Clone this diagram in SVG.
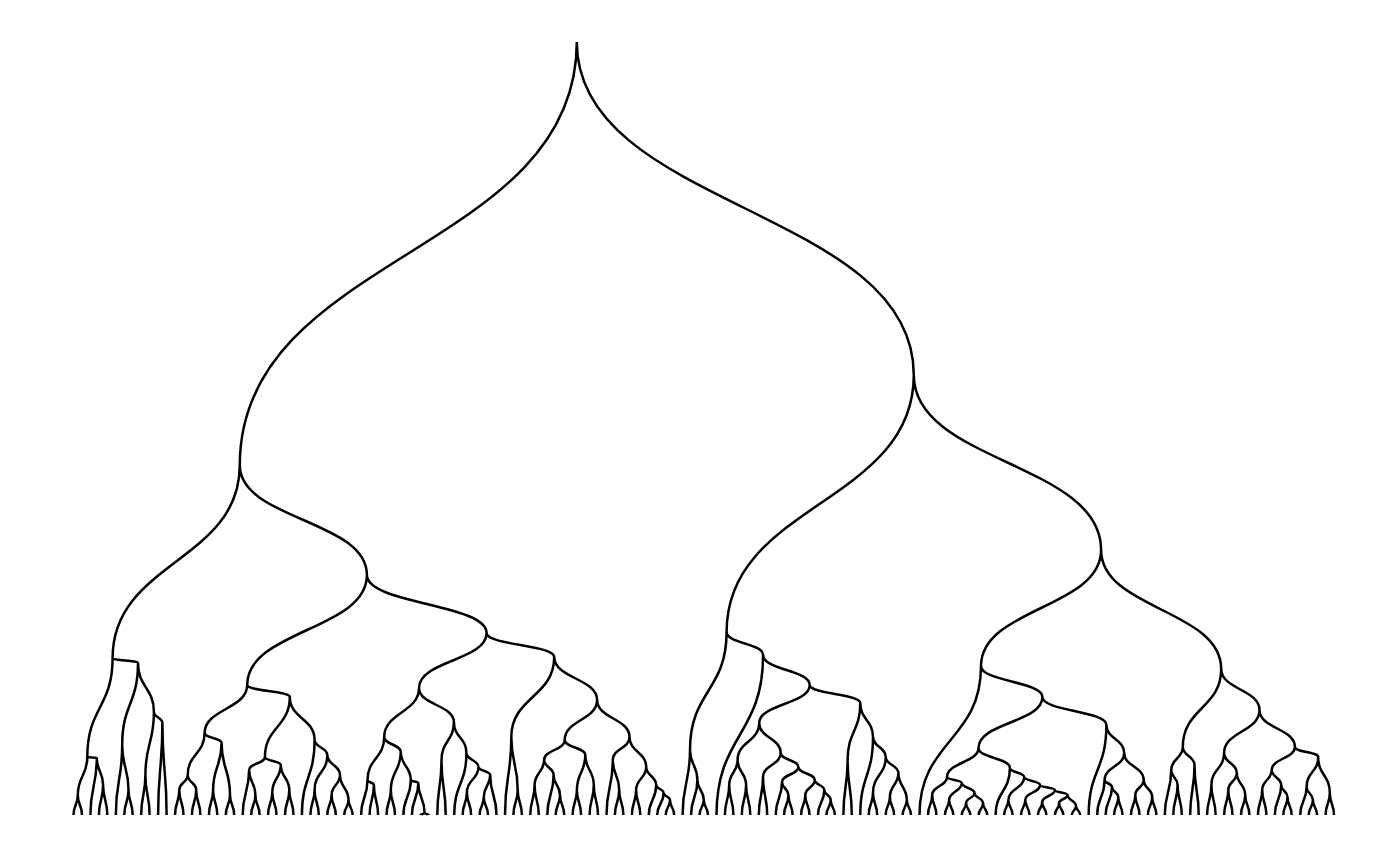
<svg xmlns="http://www.w3.org/2000/svg" width="1400" height="865" viewBox="0 0 1400 865">
<style>
.l{fill:none;stroke:#000;stroke-width:2.5;stroke-linecap:butt}
</style>
<rect width="1400" height="865" fill="#fff"/>
<g id="connectors" class="l">
<g id="top">
<path d="M239.8,465 C239.8,253.5 576.8,253.5 576.8,42 C576.8,208.5 913.8,208.5 913.8,375"/>
<path d="M112.6,658 C112.6,561.5 239.8,561.5 239.8,465 C239.8,520 366.9,520 366.9,575"/>
<path d="M726.6,632 C726.6,503.5 913.8,503.5 913.8,375 C913.8,462.5 1101.1,462.5 1101.1,550"/>
<path d="M247.2,685 C247.2,630 366.9,630 366.9,575 C366.9,604 486.6,604 486.6,633"/>
<path d="M419,688 C419,660.5 486.6,660.5 486.6,633 C486.6,645 554.2,645 554.2,657"/>
<path d="M981,666 C981,608 1101.1,608 1101.1,550 C1101.1,609.5 1221.2,609.5 1221.2,669"/>
</g>
<g id="sub-A1">
<path d="M73.5,815 C73.5,805 77.8,805 77.8,795 C77.8,805 82,805 82,815"/>
<path d="M98.9,815 C98.9,800 103.1,800 103.1,785 C103.1,800 107.3,800 107.3,815"/>
<path d="M90.4,815 C90.4,786.5 96.8,786.5 96.8,758 C96.8,771.5 103.1,771.5 103.1,785"/>
<path d="M77.8,795 C77.8,776 87.3,776 87.3,757 C87.3,757.5 96.8,757.5 96.8,758"/>
<path d="M124.3,815 C124.3,802.5 128.5,802.5 128.5,790 C128.5,802.5 132.7,802.5 132.7,815"/>
<path d="M115.8,815 C115.8,780 122.2,780 122.2,745 C122.2,767.5 128.5,767.5 128.5,790"/>
<path d="M141.2,815 C141.2,795 145.4,795 145.4,775 C145.4,795 149.6,795 149.6,815"/>
<path d="M158.1,815 C158.1,769 162.4,769 162.4,723 C162.4,769 166.6,769 166.6,815"/>
<path d="M145.4,775 C145.4,743.5 153.9,743.5 153.9,712 C153.9,717.5 162.4,717.5 162.4,723"/>
<path d="M122.2,745 C122.2,704 138,704 138,663 C138,687.5 153.9,687.5 153.9,712"/>
<path d="M87.3,757 C87.3,707.5 112.6,707.5 112.6,658 C112.6,660.5 138,660.5 138,663"/>
</g>
<g id="sub-A2a">
<path d="M175,815 C175,802.5 179.3,802.5 179.3,790 C179.3,802.5 183.5,802.5 183.5,815"/>
<path d="M191.9,815 C191.9,802.5 196.2,802.5 196.2,790 C196.2,802.5 200.4,802.5 200.4,815"/>
<path d="M179.3,790 C179.3,782.5 187.7,782.5 187.7,775 C187.7,782.5 196.2,782.5 196.2,790"/>
<path d="M208.9,815 C208.9,802.5 213.1,802.5 213.1,790 C213.1,802.5 217.3,802.5 217.3,815"/>
<path d="M225.8,815 C225.8,805 230,805 230,795 C230,805 234.2,805 234.2,815"/>
<path d="M213.1,790 C213.1,766.5 221.6,766.5 221.6,743 C221.6,769 230,769 230,795"/>
<path d="M187.7,775 C187.7,754 204.6,754 204.6,733 C204.6,738 221.6,738 221.6,743"/>
<path d="M251.2,815 C251.2,805 255.4,805 255.4,795 C255.4,805 259.6,805 259.6,815"/>
<path d="M242.7,815 C242.7,792.5 249.1,792.5 249.1,770 C249.1,782.5 255.4,782.5 255.4,795"/>
<path d="M268.1,815 C268.1,803.5 272.3,803.5 272.3,792 C272.3,803.5 276.5,803.5 276.5,815"/>
<path d="M285,815 C285,802.5 289.3,802.5 289.3,790 C289.3,802.5 293.5,802.5 293.5,815"/>
<path d="M272.3,792 C272.3,778.5 280.8,778.5 280.8,765 C280.8,777.5 289.3,777.5 289.3,790"/>
<path d="M249.1,770 C249.1,763.5 264.9,763.5 264.9,757 C264.9,761 280.8,761 280.8,765"/>
<path d="M310.4,815 C310.4,802.5 314.6,802.5 314.6,790 C314.6,802.5 318.8,802.5 318.8,815"/>
<path d="M327.3,815 C327.3,805 331.6,805 331.6,795 C331.6,805 335.8,805 335.8,815"/>
<path d="M344.2,815 C344.2,807.5 348.5,807.5 348.5,800 C348.5,807.5 352.7,807.5 352.7,815"/>
<path d="M331.6,795 C331.6,785 340,785 340,775 C340,787.5 348.5,787.5 348.5,800"/>
<path d="M314.6,790 C314.6,772.5 327.3,772.5 327.3,755 C327.3,765 340,765 340,775"/>
<path d="M301.9,815 C301.9,777.5 314.6,777.5 314.6,740 C314.6,747.5 327.3,747.5 327.3,755"/>
<path d="M264.9,757 C264.9,727 289.8,727 289.8,697 C289.8,718.5 314.6,718.5 314.6,740"/>
<path d="M204.6,733 C204.6,709 247.2,709 247.2,685 C247.2,691 289.8,691 289.8,697"/>
</g>
<g id="sub-A2b1">
<path d="M369.6,815 C369.6,800 373.9,800 373.9,785 C373.9,800 378.1,800 378.1,815"/>
<path d="M361.1,815 C361.1,797.5 367.5,797.5 367.5,780 C367.5,782.5 373.9,782.5 373.9,785"/>
<path d="M386.5,815 C386.5,802.5 390.8,802.5 390.8,790 C390.8,802.5 395,802.5 395,815"/>
<path d="M420.4,815 C420.4,814 424.6,814 424.6,813 C424.6,814 428.8,814 428.8,815"/>
<path d="M411.9,815 C411.9,799 418.3,799 418.3,783 C418.3,798 424.6,798 424.6,813"/>
<path d="M403.4,815 C403.4,797.5 410.8,797.5 410.8,780 C410.8,781.5 418.3,781.5 418.3,783"/>
<path d="M390.8,790 C390.8,771 400.8,771 400.8,752 C400.8,766 410.8,766 410.8,780"/>
<path d="M367.5,780 C367.5,758.5 384.2,758.5 384.2,737 C384.2,744.5 400.8,744.5 400.8,752"/>
<path d="M437.3,815 C437.3,787.5 441.5,787.5 441.5,760 C441.5,787.5 445.7,787.5 445.7,815"/>
<path d="M462.7,815 C462.7,803.5 466.9,803.5 466.9,792 C466.9,803.5 471.1,803.5 471.1,815"/>
<path d="M479.6,815 C479.6,806 483.8,806 483.8,797 C483.8,806 488,806 488,815"/>
<path d="M483.8,797 C483.8,786 490.2,786 490.2,775 C490.2,795 496.5,795 496.5,815"/>
<path d="M466.9,792 C466.9,779.5 478.5,779.5 478.5,767 C478.5,771 490.2,771 490.2,775"/>
<path d="M454.2,815 C454.2,784 466.4,784 466.4,753 C466.4,760 478.5,760 478.5,767"/>
<path d="M441.5,760 C441.5,741 453.9,741 453.9,722 C453.9,737.5 466.4,737.5 466.4,753"/>
<path d="M384.2,737 C384.2,712.5 419,712.5 419,688 C419,705 453.9,705 453.9,722"/>
</g>
<g id="sub-A2b2">
<path d="M513.4,815 C513.4,802.5 517.7,802.5 517.7,790 C517.7,802.5 521.9,802.5 521.9,815"/>
<path d="M505,815 C505,776 511.3,776 511.3,737 C511.3,763.5 517.7,763.5 517.7,790"/>
<path d="M530.3,815 C530.3,800 534.6,800 534.6,785 C534.6,800 538.8,800 538.8,815"/>
<path d="M555.7,815 C555.7,805 560,805 560,795 C560,805 564.2,805 564.2,815"/>
<path d="M547.3,815 C547.3,795 553.6,795 553.6,775 C553.6,785 560,785 560,795"/>
<path d="M534.6,785 C534.6,772.5 544.1,772.5 544.1,760 C544.1,767.5 553.6,767.5 553.6,775"/>
<path d="M572.6,815 C572.6,802.5 576.9,802.5 576.9,790 C576.9,802.5 581.1,802.5 581.1,815"/>
<path d="M589.6,815 C589.6,800 593.8,800 593.8,785 C593.8,800 598,800 598,815"/>
<path d="M576.9,790 C576.9,772.5 585.3,772.5 585.3,755 C585.3,770 593.8,770 593.8,785"/>
<path d="M544.1,760 C544.1,750 564.7,750 564.7,740 C564.7,747.5 585.3,747.5 585.3,755"/>
<path d="M614.9,815 C614.9,802.5 619.2,802.5 619.2,790 C619.2,802.5 623.4,802.5 623.4,815"/>
<path d="M606.5,815 C606.5,787.5 612.8,787.5 612.8,760 C612.8,775 619.2,775 619.2,790"/>
<path d="M631.9,815 C631.9,802.5 636.1,802.5 636.1,790 C636.1,802.5 640.3,802.5 640.3,815"/>
<path d="M665.7,815 C665.7,807.5 670,807.5 670,800 C670,807.5 674.2,807.5 674.2,815"/>
<path d="M657.2,815 C657.2,804 663.6,804 663.6,793 C663.6,796.5 670,796.5 670,800"/>
<path d="M648.8,815 C648.8,800 656.2,800 656.2,785 C656.2,789 663.6,789 663.6,793"/>
<path d="M636.1,790 C636.1,778.5 646.2,778.5 646.2,767 C646.2,776 656.2,776 656.2,785"/>
<path d="M612.8,760 C612.8,748.5 629.5,748.5 629.5,737 C629.5,752 646.2,752 646.2,767"/>
<path d="M564.7,740 C564.7,720 597.1,720 597.1,700 C597.1,718.5 629.5,718.5 629.5,737"/>
<path d="M511.3,737 C511.3,697 554.2,697 554.2,657 C554.2,678.5 597.1,678.5 597.1,700"/>
</g>
<g id="sub-B1">
<path d="M699.5,815 C699.5,807.5 703.8,807.5 703.8,800 C703.8,807.5 708,807.5 708,815"/>
<path d="M691.1,815 C691.1,797.5 697.4,797.5 697.4,780 C697.4,790 703.8,790 703.8,800"/>
<path d="M682.6,815 C682.6,782.5 690,782.5 690,750 C690,765 697.4,765 697.4,780"/>
<path d="M724.9,815 C724.9,800 729.2,800 729.2,785 C729.2,800 733.4,800 733.4,815"/>
<path d="M741.8,815 C741.8,800 746.1,800 746.1,785 C746.1,800 750.3,800 750.3,815"/>
<path d="M729.2,785 C729.2,772.5 737.6,772.5 737.6,760 C737.6,772.5 746.1,772.5 746.1,785"/>
<path d="M758.8,815 C758.8,796 763,796 763,777 C763,796 767.2,796 767.2,815"/>
<path d="M784.1,815 C784.1,805 788.4,805 788.4,795 C788.4,805 792.6,805 792.6,815"/>
<path d="M775.7,815 C775.7,798.5 782,798.5 782,782 C782,788.5 788.4,788.5 788.4,795"/>
<path d="M801.1,815 C801.1,805 805.3,805 805.3,795 C805.3,805 809.5,805 809.5,815"/>
<path d="M826.4,815 C826.4,807.5 830.7,807.5 830.7,800 C830.7,807.5 834.9,807.5 834.9,815"/>
<path d="M818,815 C818,802.5 824.3,802.5 824.3,790 C824.3,795 830.7,795 830.7,800"/>
<path d="M805.3,795 C805.3,787.5 814.8,787.5 814.8,780 C814.8,785 824.3,785 824.3,790"/>
<path d="M782,782 C782,774.5 798.4,774.5 798.4,767 C798.4,773.5 814.8,773.5 814.8,780"/>
<path d="M763,777 C763,765 780.7,765 780.7,753 C780.7,760 798.4,760 798.4,767"/>
<path d="M737.6,760 C737.6,741.5 759.2,741.5 759.2,723 C759.2,738 780.7,738 780.7,753"/>
<path d="M843.4,815 C843.4,787.5 847.6,787.5 847.6,760 C847.6,787.5 851.8,787.5 851.8,815"/>
<path d="M868.7,815 C868.7,804 873,804 873,793 C873,804 877.2,804 877.2,815"/>
<path d="M885.7,815 C885.7,806 889.9,806 889.9,797 C889.9,806 894.1,806 894.1,815"/>
<path d="M902.6,815 C902.6,807.5 906.8,807.5 906.8,800 C906.8,807.5 911,807.5 911,815"/>
<path d="M889.9,797 C889.9,785 898.4,785 898.4,773 C898.4,786.5 906.8,786.5 906.8,800"/>
<path d="M873,793 C873,775 885.7,775 885.7,757 C885.7,765 898.4,765 898.4,773"/>
<path d="M860.3,815 C860.3,776 873,776 873,737 C873,747 885.7,747 885.7,757"/>
<path d="M847.6,760 C847.6,731.5 860.3,731.5 860.3,703 C860.3,720 873,720 873,737"/>
<path d="M759.2,723 C759.2,704 809.7,704 809.7,685 C809.7,694 860.3,694 860.3,703"/>
<path d="M716.5,815 C716.5,735 763.1,735 763.1,655 C763.1,670 809.7,670 809.7,685"/>
<path d="M690,750 C690,691 726.6,691 726.6,632 C726.6,643.5 763.1,643.5 763.1,655"/>
</g>
<g id="sub-B2a">
<path d="M928,815 C928,805 932.2,805 932.2,795 C932.2,805 936.4,805 936.4,815"/>
<path d="M944.9,815 C944.9,807.5 949.1,807.5 949.1,800 C949.1,807.5 953.3,807.5 953.3,815"/>
<path d="M961.8,815 C961.8,809 966.1,809 966.1,803 C966.1,809 970.3,809 970.3,815"/>
<path d="M978.7,815 C978.7,809 983,809 983,803 C983,809 987.2,809 987.2,815"/>
<path d="M966.1,803 C966.1,798 974.5,798 974.5,793 C974.5,798 983,798 983,803"/>
<path d="M949.1,800 C949.1,791.5 961.8,791.5 961.8,783 C961.8,788 974.5,788 974.5,793"/>
<path d="M932.2,795 C932.2,786 947,786 947,777 C947,780 961.8,780 961.8,783"/>
<path d="M1004.1,815 C1004.1,807.5 1008.4,807.5 1008.4,800 C1008.4,807.5 1012.6,807.5 1012.6,815"/>
<path d="M1021,815 C1021,807.5 1025.3,807.5 1025.3,800 C1025.3,807.5 1029.5,807.5 1029.5,815"/>
<path d="M1037.9,815 C1037.9,808.5 1042.2,808.5 1042.2,802 C1042.2,808.5 1046.4,808.5 1046.4,815"/>
<path d="M1054.9,815 C1054.9,809 1059.1,809 1059.1,803 C1059.1,809 1063.3,809 1063.3,815"/>
<path d="M1071.8,815 C1071.8,810.5 1076,810.5 1076,806 C1076,810.5 1080.2,810.5 1080.2,815"/>
<path d="M1059.1,803 C1059.1,799 1067.6,799 1067.6,795 C1067.6,800.5 1076,800.5 1076,806"/>
<path d="M1042.2,802 C1042.2,796 1054.9,796 1054.9,790 C1054.9,792.5 1067.6,792.5 1067.6,795"/>
<path d="M1025.3,800 C1025.3,792.5 1040.1,792.5 1040.1,785 C1040.1,787.5 1054.9,787.5 1054.9,790"/>
<path d="M1008.4,800 C1008.4,788.5 1024.2,788.5 1024.2,777 C1024.2,781 1040.1,781 1040.1,785"/>
<path d="M995.6,815 C995.6,791.5 1009.9,791.5 1009.9,768 C1009.9,772.5 1024.2,772.5 1024.2,777"/>
<path d="M947,777 C947,762.5 978.5,762.5 978.5,748 C978.5,758 1009.9,758 1009.9,768"/>
<path d="M1114.1,815 C1114.1,806 1118.3,806 1118.3,797 C1118.3,806 1122.5,806 1122.5,815"/>
<path d="M1105.6,815 C1105.6,801 1112,801 1112,787 C1112,792 1118.3,792 1118.3,797"/>
<path d="M1097.2,815 C1097.2,797.5 1104.6,797.5 1104.6,780 C1104.6,783.5 1112,783.5 1112,787"/>
<path d="M1131,815 C1131,805 1135.3,805 1135.3,795 C1135.3,805 1139.5,805 1139.5,815"/>
<path d="M1147.9,815 C1147.9,806 1152.2,806 1152.2,797 C1152.2,806 1156.4,806 1156.4,815"/>
<path d="M1135.3,795 C1135.3,787.5 1143.7,787.5 1143.7,780 C1143.7,788.5 1152.2,788.5 1152.2,797"/>
<path d="M1104.6,780 C1104.6,766.5 1124.2,766.5 1124.2,753 C1124.2,766.5 1143.7,766.5 1143.7,780"/>
<path d="M1088.7,815 C1088.7,770 1106.4,770 1106.4,725 C1106.4,739 1124.2,739 1124.2,753"/>
<path d="M978.5,748 C978.5,722.5 1042.4,722.5 1042.4,697 C1042.4,711 1106.4,711 1106.4,725"/>
<path d="M919.5,815 C919.5,740.5 981,740.5 981,666 C981,681.5 1042.4,681.5 1042.4,697"/>
</g>
<g id="sub-B2b">
<path d="M1173.3,815 C1173.3,800 1177.6,800 1177.6,785 C1177.6,800 1181.8,800 1181.8,815"/>
<path d="M1164.8,815 C1164.8,792.5 1171.2,792.5 1171.2,770 C1171.2,777.5 1177.6,777.5 1177.6,785"/>
<path d="M1190.2,815 C1190.2,790 1194.5,790 1194.5,765 C1194.5,790 1198.7,790 1198.7,815"/>
<path d="M1171.2,770 C1171.2,758.5 1182.8,758.5 1182.8,747 C1182.8,756 1194.5,756 1194.5,765"/>
<path d="M1207.1,815 C1207.1,800 1211.4,800 1211.4,785 C1211.4,800 1215.6,800 1215.6,815"/>
<path d="M1224.1,815 C1224.1,802.5 1228.3,802.5 1228.3,790 C1228.3,802.5 1232.5,802.5 1232.5,815"/>
<path d="M1241,815 C1241,805 1245.2,805 1245.2,795 C1245.2,805 1249.4,805 1249.4,815"/>
<path d="M1228.3,790 C1228.3,781.5 1236.8,781.5 1236.8,773 C1236.8,784 1245.2,784 1245.2,795"/>
<path d="M1211.4,785 C1211.4,769 1224.1,769 1224.1,753 C1224.1,763 1236.8,763 1236.8,773"/>
<path d="M1257.9,815 C1257.9,802.5 1262.2,802.5 1262.2,790 C1262.2,802.5 1266.4,802.5 1266.4,815"/>
<path d="M1283.3,815 C1283.3,806 1287.5,806 1287.5,797 C1287.5,806 1291.7,806 1291.7,815"/>
<path d="M1274.8,815 C1274.8,800 1281.2,800 1281.2,785 C1281.2,791 1287.5,791 1287.5,797"/>
<path d="M1262.2,790 C1262.2,780 1271.7,780 1271.7,770 C1271.7,777.5 1281.2,777.5 1281.2,785"/>
<path d="M1308.7,815 C1308.7,807.5 1312.9,807.5 1312.9,800 C1312.9,807.5 1317.1,807.5 1317.1,815"/>
<path d="M1300.2,815 C1300.2,801 1306.6,801 1306.6,787 C1306.6,793.5 1312.9,793.5 1312.9,800"/>
<path d="M1325.6,815 C1325.6,804 1329.8,804 1329.8,793 C1329.8,804 1334,804 1334,815"/>
<path d="M1306.6,787 C1306.6,772 1318.2,772 1318.2,757 C1318.2,775 1329.8,775 1329.8,793"/>
<path d="M1271.7,770 C1271.7,758.5 1294.9,758.5 1294.9,747 C1294.9,752 1318.2,752 1318.2,757"/>
<path d="M1224.1,753 C1224.1,731.5 1259.5,731.5 1259.5,710 C1259.5,728.5 1294.9,728.5 1294.9,747"/>
<path d="M1182.8,747 C1182.8,708 1221.2,708 1221.2,669 C1221.2,689.5 1259.5,689.5 1259.5,710"/>
</g>
</g>
</svg>
